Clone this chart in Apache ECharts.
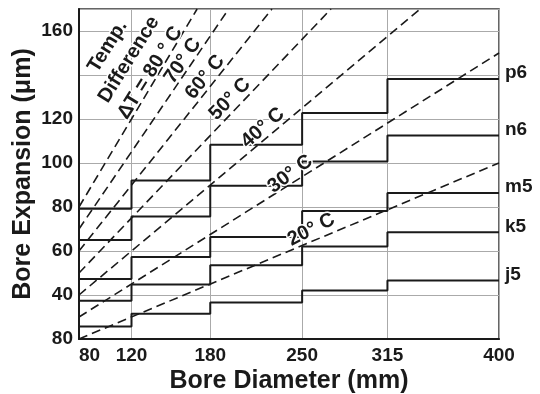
<!DOCTYPE html>
<html>
<head>
<meta charset="utf-8">
<script src="https://cdn.jsdelivr.net/npm/echarts@6/dist/echarts.min.js"></script>
<style>
  html, body { margin: 0; padding: 0; background: #fff; }
  #chart { width: 540px; height: 394px; }
</style>
</head>
<body>
<div id="chart"></div>
<script>
// Bore diameter breakpoints (mm)
const boreSizes = [80, 120, 180, 250, 315, 400];

// Bore expansion per diameter range (µm), one value per range
const fitNames = ['j5', 'k5', 'm5', 'n6', 'p6'];
const j5 = [25.7, 31.5, 36.6, 42.1, 46.6];
const k5 = [37.4, 44.8, 53.5, 62.1, 68.5];
const m5 = [47.3, 57.3, 66.4, 78.2, 86.4];
const n6 = [65.0, 75.7, 89.7, 100.7, 112.5];
const p6 = [79.2, 92.0, 108.3, 122.7, 138.2];
const fitValues = [j5, k5, m5, n6, p6];

// Y axis ticks and their printed labels
const yTicks = [20, 40, 60, 80, 100, 120, 140, 160];
const yTickLabels = ['80', '40', '60', '80', '100', '120', '', '160'];

// Temperature-difference reference lines (start/end points)
const tempDiffs = [20, 30, 40, 50, 60, 70, 80];
const dashStartD = [80, 80, 80, 80, 80, 80, 80];
const dashStartV = [20, 30, 40, 50, 60, 70, 80];
const dashEndD = [400, 400, 340, 272, 227, 194, 170];
const dashEndV = [100, 150, 170, 170, 170, 170, 170];

// Label anchors for the reference lines
const tempLabelText = ['20° C', '30° C', '40° C', '50° C', '60° C', '70° C', 'Temp.\nDifference\nΔT = 80 ° C'];
const tempLabelD = [257, 241, 220, 195, 176, 159, 118];
const tempLabelV = [69.7, 95, 116, 129, 139, 146.5, 147];
const tempLabelAngle = [27, 37, 41, 46, 51, 56, 58];

const FONT = '"Liberation Sans", Arial, sans-serif';
const INK = '#1a1a1a';

function stepPoints(vals) {
  const pts = [];
  for (let i = 0; i < vals.length; i++) {
    pts.push([boreSizes[i], vals[i]]);
    pts.push([boreSizes[i + 1], vals[i]]);
  }
  return pts;
}

const series = [];

tempDiffs.forEach((t, i) => {
  series.push({
    name: t + '°C',
    type: 'line',
    data: [[dashStartD[i], dashStartV[i]], [dashEndD[i], dashEndV[i]]],
    symbol: 'none',
    silent: true,
    z: 3,
    lineStyle: { color: INK, width: 1.6, type: [9, 5] },
    markPoint: {
      symbol: 'circle',
      symbolSize: 0,
      silent: true,
      z: 6,
      data: [{
        coord: [tempLabelD[i], tempLabelV[i]],
        label: {
          show: true,
          position: 'inside',
          formatter: tempLabelText[i],
          rotate: tempLabelAngle[i],
          fontFamily: FONT,
          fontWeight: 'bold',
          fontSize: 20,
          lineHeight: 25,
          align: 'center',
          verticalAlign: 'middle',
          color: INK,
          textBorderColor: '#fff',
          textBorderWidth: 3
        }
      }]
    }
  });
});

fitNames.forEach((name, i) => {
  series.push({
    name: name,
    type: 'line',
    data: stepPoints(fitValues[i]),
    symbol: 'none',
    silent: true,
    z: 4,
    lineStyle: { color: INK, width: 2 },
    endLabel: {
      show: true,
      formatter: '{a}',
      distance: 6,
      offset: [0, -6],
      fontFamily: FONT,
      fontWeight: 'bold',
      fontSize: 19,
      color: INK
    }
  });
});

const chart = echarts.init(document.getElementById('chart'), null, { renderer: 'canvas' });
chart.setOption({
  animation: false,
  backgroundColor: '#fff',
  grid: {
    left: 79, right: 41, top: 9, bottom: 55,
    outerBoundsMode: 'none',
    containLabel: false,
    show: true, borderColor: '#333', borderWidth: 1.5, backgroundColor: 'transparent'
  },
  xAxis: {
    type: 'value',
    min: 80, max: 400,
    name: 'Bore Diameter (mm)',
    nameLocation: 'middle',
    nameGap: 30,
    nameMoveOverlap: false,
    nameTextStyle: { fontFamily: FONT, fontWeight: 'bold', fontSize: 25, color: INK },
    axisLine: { show: true, lineStyle: { color: INK, width: 2 } },
    axisTick: { show: false, customValues: boreSizes },
    axisLabel: {
      customValues: boreSizes,
      margin: 7,
      fontFamily: FONT, fontWeight: 'bold', fontSize: 19, color: INK,
      alignMinLabel: 'left'
    },
    splitLine: { show: true, lineStyle: { color: '#aaa', width: 1 } }
  },
  yAxis: {
    type: 'value',
    min: 20, max: 170, interval: 20,
    name: 'Bore Expansion (μm)',
    nameLocation: 'middle',
    nameRotate: 90,
    nameGap: 43,
    nameMoveOverlap: false,
    nameTextStyle: { fontFamily: FONT, fontWeight: 'bold', fontSize: 25, color: INK },
    axisLine: { show: true, lineStyle: { color: INK, width: 2 } },
    axisTick: { show: false },
    axisLabel: {
      margin: 6,
      fontFamily: FONT, fontWeight: 'bold', fontSize: 19, color: INK,
      formatter: v => {
        const k = yTicks.indexOf(v);
        return k >= 0 ? yTickLabels[k] : '';
      }
    },
    splitLine: { show: true, lineStyle: { color: '#aaa', width: 1 } }
  },
  series: series
});
</script>
</body>
</html>
